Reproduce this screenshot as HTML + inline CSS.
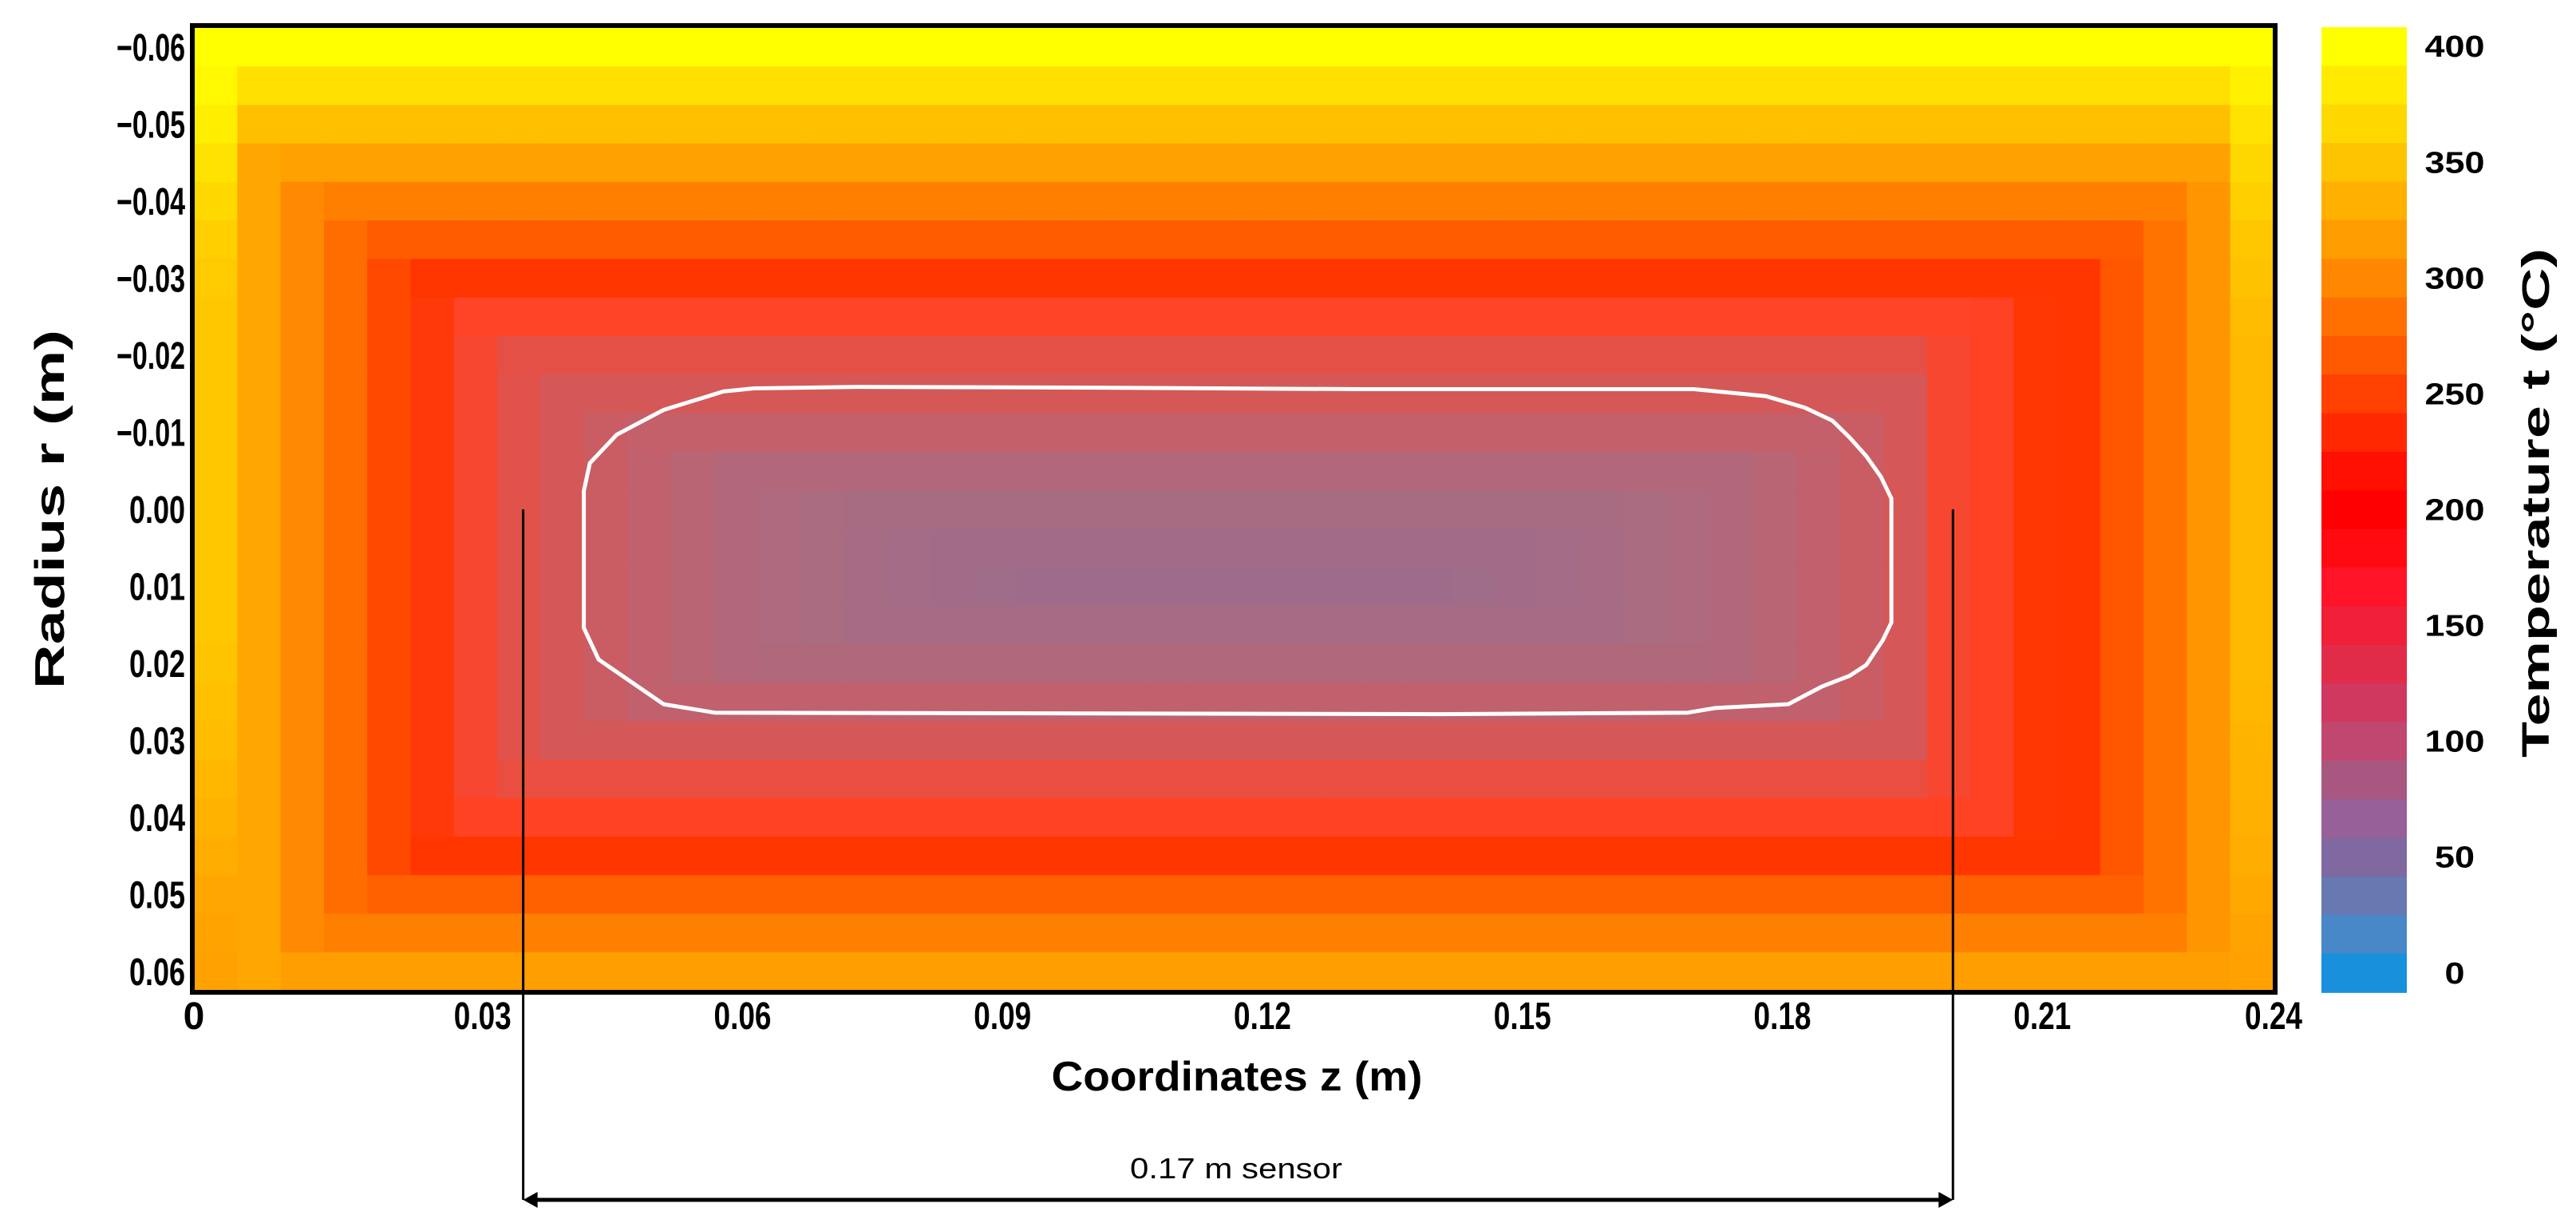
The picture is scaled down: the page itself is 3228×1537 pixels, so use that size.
<!DOCTYPE html>
<html>
<head>
<meta charset="utf-8">
<style>
  html, body { margin: 0; padding: 0; background: #fff; }
  body { width: 3228px; height: 1537px; overflow: hidden; }
  svg { display: block; font-family: "Liberation Sans", "DejaVu Sans", sans-serif; }
</style>
</head>
<body>
<svg id="chart" width="3228" height="1537" viewBox="0 0 3228 1537" xmlns="http://www.w3.org/2000/svg">
  <g id="heatmap"></g>
  <path id="isotherm" fill="none" stroke="#ffffff" stroke-width="5" stroke-linejoin="round"></path>
  <rect x="241" y="32" width="2610" height="1211" fill="none" stroke="#000" stroke-width="6"></rect>
  <g id="yticks"></g>
  <g id="xticks"></g>
  <text transform="translate(80,638) rotate(-90)" text-anchor="middle" font-size="52" font-weight="bold" textLength="450" lengthAdjust="spacingAndGlyphs">Radius r (m)</text>
  <text x="1550" y="1366" text-anchor="middle" font-size="52" font-weight="bold" textLength="465" lengthAdjust="spacingAndGlyphs">Coordinates z (m)</text>
  <g id="sensor"></g>
  <text x="1549" y="1476" text-anchor="middle" font-size="36" textLength="266" lengthAdjust="spacingAndGlyphs">0.17 m sensor</text>
  <g id="colorbar"></g>
  <g id="cbticks"></g>
  <text transform="translate(3194,630) rotate(-90)" text-anchor="middle" font-size="48" font-weight="bold" textLength="638" lengthAdjust="spacingAndGlyphs">Temperature t (°C)</text>
</svg>
<script>
// ---- data ----
const rowValues = [400,378,355,330,305,275,245,222,195,170,145,118,100,85,78,95,115,140,170,200,225,245,278,305,328];
const colValues = [360,335,312,288,260,240,215,190,170,155,140,128,118,110,102,95,90,85,80,76,73,71,70,70,
                   70,70,71,73,76,80,85,90,96,102,110,118,128,140,155,172,215,225,243,245,270,295,322,350];
const leftEdgeRows = [400,395,388,380,372,366,362,360,360,360,360,360,360,360,360,360,358,355,352,348,345,340,335,332,330];
const rightEdgeRows = [400,390,380,372,366,360,356,352,350,350,350,350,350,350,350,350,350,348,346,344,342,340,336,332,330];
const rTickLabels = ["\u22120.06","\u22120.05","\u22120.04","\u22120.03","\u22120.02","\u22120.01","0.00","0.01","0.02","0.03","0.04","0.05","0.06"];
const rTickValues = [-0.06,-0.05,-0.04,-0.03,-0.02,-0.01,0,0.01,0.02,0.03,0.04,0.05,0.06];
const zTickLabels = ["0","0.03","0.06","0.09","0.12","0.15","0.18","0.21","0.24"];
const zTickValues = [0,0.03,0.06,0.09,0.12,0.15,0.18,0.21,0.24];
const cbTickValues = [400,350,300,250,200,150,100,50,0];
const cbBandValues = [400,383.3,366.7,350,333.3,316.7,300,283.3,266.7,250,233.3,216.7,200,183.3,166.7,150,133.3,116.7,100,83.3,66.7,50,33.3,16.7,0];
const cbBandColors = ["#FFFF00","#FFEA00","#FFD800","#FFC400","#FFB000","#FF9C00","#FF8800","#FF7000","#FF5A00","#FF4000","#FF2800","#FF1000","#FF0000","#FF0A10","#FF1428","#F02038","#E02C48","#D03860","#C04870","#A85880","#986098","#8068A0","#6878B0","#4888C8","#1890DC"];
const cmapValues = [400,375,352,328,305,275,245,222,195,170,145,118,100,85,70];
const cmapColors = ["#FFFF00","#FFDC00","#FFBC00","#FF9E00","#FF8000","#FF5C00","#FF3600","#FF4428","#E45046","#D45858","#C4606A","#B2687A","#A86C82","#A26C88","#9A6C8C"];
const contourZ = [0.0611,0.0646,0.0766,0.1045,0.1347,0.1731,0.1814,0.1859,0.1891,0.1911,0.1930,0.1947,0.1959,0.1959,0.1949,0.1930,0.1911,0.1879,0.1840,0.1756,0.1724,0.1434,0.0601,0.0542,0.0467,0.0450,0.0450,0.0457,0.0488,0.0542];
const contourR = [-0.0153,-0.0157,-0.0159,-0.0158,-0.0156,-0.0156,-0.0147,-0.0132,-0.0115,-0.0093,-0.0069,-0.0042,-0.0014,0.0147,0.0170,0.0202,0.0216,0.0230,0.0253,0.0258,0.0264,0.0266,0.0264,0.0253,0.0195,0.0154,-0.0024,-0.0060,-0.0097,-0.0129];
const sensorStart = 0.038;
const sensorEnd = 0.203;

// ---- scales ----
const PX0 = 243, PX1 = 2849, PY0 = 35, PY1 = 1241;
function zx(z){ return PX0 + z / 0.24 * (PX1 - PX0); }
function ry(r){ return PY0 + (r + 0.0625) / 0.125 * (PY1 - PY0); }
const CB0 = 34, CB1 = 1243;
function cby(v){ return CB0 + (408.333 - v) / 416.667 * (CB1 - CB0); }

function hex(c){ return [parseInt(c.substr(1,2),16),parseInt(c.substr(3,2),16),parseInt(c.substr(5,2),16)]; }
function colorFor(v){
  if (v >= cmapValues[0]) return cmapColors[0];
  for (let k = 0; k < cmapValues.length - 1; k++){
    const a = cmapValues[k], b = cmapValues[k+1];
    if (v <= a && v >= b){
      const t = (a - v) / (a - b);
      const ca = hex(cmapColors[k]), cb = hex(cmapColors[k+1]);
      const m = ca.map((x,i)=>Math.round(x + (cb[i]-x)*t));
      return "rgb(" + m.join(",") + ")";
    }
  }
  return cmapColors[cmapColors.length-1];
}
const NS = "http://www.w3.org/2000/svg";
function mk(tag, attrs){ const e = document.createElementNS(NS, tag); for (const k in attrs) e.setAttribute(k, attrs[k]); return e; }

// ---- heatmap ----
const hm = document.getElementById("heatmap");
const dz = 0.24 / colValues.length, dr = 0.125 / rowValues.length;
for (let i = 0; i < rowValues.length; i++){
  for (let j = 0; j < colValues.length; j++){
    let v = Math.max(rowValues[i], colValues[j]);
    if (j === 0) v = Math.max(rowValues[i], leftEdgeRows[i]);
    if (j === colValues.length - 1) v = Math.max(rowValues[i], rightEdgeRows[i]);
    const x0 = zx(j*dz), x1 = zx((j+1)*dz);
    const y0 = ry(-0.0625 + i*dr), y1 = ry(-0.0625 + (i+1)*dr);
    const c = mk("rect", {x: x0.toFixed(1), y: y0.toFixed(1), width: (x1-x0+0.8).toFixed(1), height: (y1-y0+0.8).toFixed(1), fill: colorFor(v)});
    
    
    hm.appendChild(c);
  }
}

// ---- contour ----
let d = "";
for (let k = 0; k < contourZ.length; k++){
  d += (k ? "L" : "M") + zx(contourZ[k]).toFixed(1) + "," + ry(contourR[k]).toFixed(1);
}
document.getElementById("isotherm").setAttribute("d", d + "Z");

// ---- y ticks ----
const yt = document.getElementById("yticks");
rTickValues.forEach((r, k) => {
  const t = mk("text", {x: 232, y: ry(r) + 17, "text-anchor": "end", "font-size": 48, "font-weight": "bold", textLength: rTickLabels[k].length > 4 ? 86 : 70, lengthAdjust: "spacingAndGlyphs"});
  t.textContent = rTickLabels[k];
  
  
  yt.appendChild(t);
});

// ---- x ticks ----
const xt = document.getElementById("xticks");
zTickValues.forEach((z, k) => {
  const last = k === zTickValues.length - 1;
  const anchor = (k === 0 || last) ? "middle" : "start";
  const t = mk("text", {x: zx(z), y: 1289, "text-anchor": anchor, "font-size": 48, "font-weight": "bold"});
  if (zTickLabels[k].length > 1) { t.setAttribute("textLength", 72); t.setAttribute("lengthAdjust", "spacingAndGlyphs"); }
  t.textContent = zTickLabels[k];
  
  
  xt.appendChild(t);
});

// ---- sensor annotation ----
const sg = document.getElementById("sensor");
const yTop = ry(0), yArrow = 1503;
[sensorStart, sensorEnd].forEach(z => {
  const l = mk("line", {x1: zx(z), y1: yTop, x2: zx(z), y2: yArrow, stroke: "#000", "stroke-width": 3});
  
  
  sg.appendChild(l);
});
const xa = zx(sensorStart), xb = zx(sensorEnd);
const al = mk("line", {x1: xa + 10, y1: yArrow, x2: xb - 10, y2: yArrow, stroke: "#000", "stroke-width": 5});


sg.appendChild(al);
const h1 = mk("polygon", {points: `${xa},${yArrow} ${xa+18},${yArrow-10} ${xa+18},${yArrow+10}`, fill: "#000"});


sg.appendChild(h1);
const h2 = mk("polygon", {points: `${xb},${yArrow} ${xb-18},${yArrow-10} ${xb-18},${yArrow+10}`, fill: "#000"});


sg.appendChild(h2);

// ---- colorbar ----
const cbg = document.getElementById("colorbar");
const bandH = (CB1 - CB0) / cbBandValues.length;
cbBandValues.forEach((v, k) => {
  const y0 = cby(v + 8.333);
  const b = mk("rect", {x: 2909, y: y0.toFixed(1), width: 107, height: (bandH + 0.8).toFixed(1), fill: cbBandColors[k]});
  
  
  cbg.appendChild(b);
});
const cbt = document.getElementById("cbticks");
cbTickValues.forEach(v => {
  const s = String(v);
  const t = mk("text", {x: 3076, y: cby(v) + 13, "text-anchor": "middle", "font-size": 38, "font-weight": "bold", textLength: s.length * 25, lengthAdjust: "spacingAndGlyphs"});
  t.textContent = s;
  
  
  cbt.appendChild(t);
});
</script>
</body>
</html>
